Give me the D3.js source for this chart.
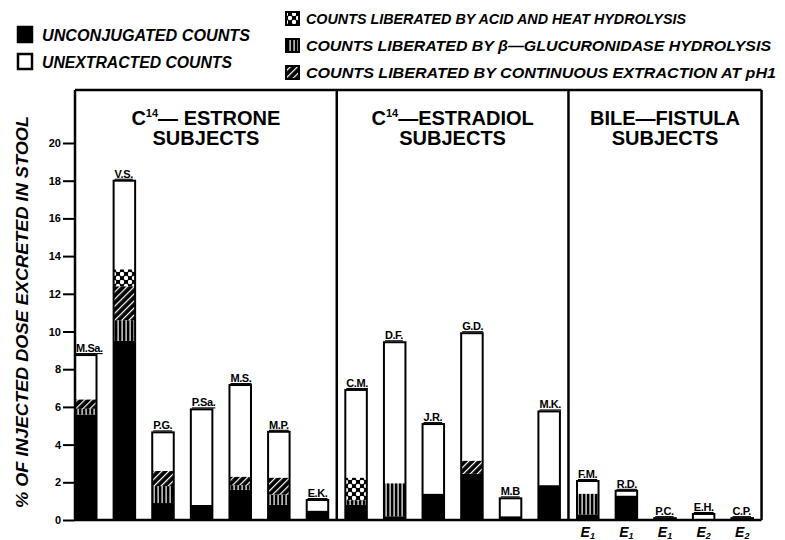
<!DOCTYPE html>
<html>
<head>
<meta charset="utf-8">
<script src="https://cdn.jsdelivr.net/npm/d3@7"></script>
<style>
  body { margin: 0; background: #fff; }
  svg { display: block; font-family: "Liberation Sans", Arial, sans-serif; }
</style>
</head>
<body>
<div id="chart"></div>
<script>
// Subjects, left to right across the three panels
const subjects = ["M.Sa.", "V.S.", "P.G.", "P.Sa.", "M.S.", "M.P.", "E.K.",
  "C.M.", "D.F.", "J.R.", "G.D.", "M.B", "M.K.",
  "F.M.", "R.D.", "P.C.", "E.H.", "C.P."];
// Panel heading: prefix, superscript, rest of first line, second line
const panelTitles = [
  ["C", "14", "— ESTRONE", "SUBJECTS"],
  ["C", "14", "—ESTRADIOL", "SUBJECTS"],
  ["BILE—FISTULA", "", "", "SUBJECTS"]
];
const panelStarts = ["M.Sa.", "C.M.", "F.M."];

// % of injected dose, stacked bottom to top
const unconjugated  = [5.6, 9.5, 0.9, 0.8, 1.6, 0.8, 0.5, 0.8, 0.2, 1.4, 2.45, 0.2, 1.85, 0.3, 1.3, 0.1, 0.05, 0.1];
const glucuronidase = [0.3, 1.1, 0.9, 0, 0.25, 0.55, 0, 0.25, 1.75, 0, 0, 0, 0, 1.1, 0, 0, 0, 0];
const continuous    = [0.5, 1.8, 0.8, 0, 0.45, 0.9, 0, 0, 0, 0, 0.7, 0, 0, 0, 0, 0, 0, 0];
const acidHeat      = [0, 0.9, 0, 0, 0, 0, 0, 1.2, 0, 0, 0, 0, 0, 0, 0, 0, 0, 0];
const unextracted   = [2.35, 4.7, 2.05, 5.07, 4.86, 2.43, 0.56, 4.65, 7.48, 3.69, 6.76, 0.95, 3.91, 0.67, 0.25, 0, 0.27, 0];

// Estrogen given, bile-fistula subjects only
const estrogen = ["", "", "", "", "", "", "", "", "", "", "", "", "", "1", "1", "1", "2", "2"];

const yTicks = [0, 2, 4, 6, 8, 10, 12, 14, 16, 18, 20];

const seriesKeys = ["unconjugated", "glucuronidase", "continuous", "acidHeat", "unextracted"];
const legendLeft = [
  ["unconjugated", "UNCONJUGATED COUNTS"],
  ["unextracted", "UNEXTRACTED COUNTS"]
];
const legendRight = [
  ["acidHeat", "COUNTS LIBERATED BY ACID AND HEAT HYDROLYSIS"],
  ["glucuronidase", "COUNTS LIBERATED BY β—GLUCURONIDASE  HYDROLYSIS"],
  ["continuous", "COUNTS LIBERATED BY CONTINUOUS EXTRACTION AT pH1"]
];

const width = 785, height = 540;
const frameTop = 90;

const svg = d3.select("#chart").append("svg")
  .attr("width", width)
  .attr("height", height);

svg.append("rect").attr("width", width).attr("height", height).attr("fill", "#fff");

// Patterns for the liberated-count segments
const defs = svg.append("defs");

const vl = defs.append("pattern").attr("id", "vlines")
  .attr("patternUnits", "userSpaceOnUse").attr("width", 4).attr("height", 4);
vl.append("rect").attr("width", 4).attr("height", 4).attr("fill", "#000");
vl.append("rect").attr("x", 1.5).attr("width", 1.2).attr("height", 4).attr("fill", "#fff");

const hatch = defs.append("pattern").attr("id", "hatch")
  .attr("patternUnits", "userSpaceOnUse").attr("width", 5).attr("height", 5)
  .attr("patternTransform", "rotate(45)");
hatch.append("rect").attr("width", 5).attr("height", 5).attr("fill", "#000");
hatch.append("rect").attr("x", 2).attr("width", 1.2).attr("height", 5).attr("fill", "#fff");

const dots = defs.append("pattern").attr("id", "dots")
  .attr("patternUnits", "userSpaceOnUse").attr("width", 8).attr("height", 8);
dots.append("rect").attr("width", 8).attr("height", 8).attr("fill", "#000");
dots.append("circle").attr("cx", 2).attr("cy", 2).attr("r", 2.2).attr("fill", "#fff");
dots.append("circle").attr("cx", 6).attr("cy", 6).attr("r", 2.2).attr("fill", "#fff");

const fills = {
  unconjugated: "#000",
  glucuronidase: "url(#vlines)",
  continuous: "url(#hatch)",
  acidHeat: "url(#dots)",
  unextracted: "#fff"
};

// Scales
const x = d3.scaleBand()
  .domain(subjects)
  .range([75, 753])
  .paddingInner(0.443)
  .paddingOuter(0);

const y = d3.scaleLinear()
  .domain([0, 20])
  .range([520, 143]);

const gap = x.step() - x.bandwidth();

// Stack the data
const rows = subjects.map((s, i) => ({
  subject: s,
  unconjugated: unconjugated[i],
  glucuronidase: glucuronidase[i],
  continuous: continuous[i],
  acidHeat: acidHeat[i],
  unextracted: unextracted[i],
  estrogen: estrogen[i]
}));
rows.forEach((r) => { r.total = d3.sum(seriesKeys, (k) => r[k]); });

const stacked = d3.stack().keys(seriesKeys)(rows);

svg.append("g")
  .selectAll("g")
  .data(stacked)
  .enter()
  .append("g")
  .attr("fill", (d) => fills[d.key])
  .selectAll("rect")
  .data((d) => d)
  .enter()
  .append("rect")
  .attr("x", (d) => x(d.data.subject))
  .attr("y", (d) => y(d[1]))
  .attr("width", x.bandwidth())
  .attr("height", (d) => y(d[0]) - y(d[1]));

// Bar outlines
svg.append("g")
  .selectAll("rect")
  .data(rows)
  .enter()
  .append("rect")
  .attr("x", (d) => x(d.subject))
  .attr("y", (d) => y(d.total))
  .attr("width", x.bandwidth())
  .attr("height", (d) => y(0) - y(d.total))
  .attr("fill", "none")
  .attr("stroke", "#000")
  .attr("stroke-width", 2);

// Subject initials over each bar
svg.append("g")
  .selectAll("text")
  .data(rows)
  .enter()
  .append("text")
  .attr("x", (d) => x(d.subject) + 1)
  .attr("y", (d) => y(d.total) - 3)
  .style("font-size", "11px")
  .style("font-weight", "bold")
  .style("letter-spacing", "-0.4px")
  .style("text-decoration", "underline")
  .text((d) => d.subject);

// E1 / E2 under the bile-fistula bars
const eLab = svg.append("g")
  .selectAll("text")
  .data(rows.filter((d) => d.estrogen))
  .enter()
  .append("text")
  .attr("x", (d) => x(d.subject) + x.bandwidth() / 2)
  .attr("y", 537)
  .attr("text-anchor", "middle")
  .style("font-size", "14px")
  .style("font-weight", "bold")
  .style("font-style", "italic");
eLab.append("tspan").text("E");
eLab.append("tspan").attr("dy", 2).style("font-size", "9px").text((d) => d.estrogen);

// Frame: top, dividers, right side, baseline
const xLeft = x(subjects[0]);
const xRight = x(subjects[subjects.length - 1]) + x.bandwidth() + gap / 2;
const dividers = panelStarts.slice(1).map((s) => x(s) - gap / 2);

const frame = svg.append("g").attr("stroke", "#000").attr("stroke-width", 2.5);
frame.append("line").attr("x1", xLeft).attr("x2", xRight).attr("y1", frameTop).attr("y2", frameTop);
frame.append("line").attr("x1", xLeft).attr("x2", xLeft).attr("y1", frameTop).attr("y2", y(0));
frame.append("line").attr("x1", xRight).attr("x2", xRight).attr("y1", frameTop).attr("y2", y(0));
frame.append("line").attr("x1", xLeft).attr("x2", xRight).attr("y1", y(0)).attr("y2", y(0));
frame.selectAll(".div")
  .data(dividers)
  .enter()
  .append("line")
  .attr("x1", (d) => d).attr("x2", (d) => d)
  .attr("y1", frameTop).attr("y2", y(0));

// Y axis
const yAxis = svg.append("g")
  .attr("transform", `translate(${xLeft},0)`)
  .call(d3.axisLeft(y).tickValues(yTicks).tickSize(12).tickPadding(2));
yAxis.select(".domain").remove();
yAxis.selectAll(".tick line").attr("stroke-width", 2);
yAxis.selectAll(".tick text")
  .style("font-size", "11px")
  .style("font-weight", "bold")
  .style("font-family", "'Liberation Sans', Arial, sans-serif");

svg.append("text")
  .attr("transform", "translate(28,312) rotate(-90)")
  .attr("text-anchor", "middle")
  .attr("textLength", 392)
  .attr("lengthAdjust", "spacingAndGlyphs")
  .style("font-size", "17px")
  .style("font-weight", "bold")
  .style("font-style", "italic")
  .text("% OF INJECTED DOSE EXCRETED IN STOOL");

// Panel headings
const bounds = [xLeft, ...dividers, xRight];
panelTitles.forEach((t, i) => {
  const cx = (bounds[i] + bounds[i + 1]) / 2;
  const line1 = svg.append("text")
    .attr("x", cx).attr("y", 125)
    .attr("text-anchor", "middle")
    .style("font-size", "20px")
    .style("font-weight", "bold");
  line1.append("tspan").text(t[0]);
  if (t[1]) {
    line1.append("tspan").attr("dy", -8).style("font-size", "11px").text(t[1]);
    line1.append("tspan").attr("dy", 8).text(t[2]);
  }
  svg.append("text")
    .attr("x", cx).attr("y", 145)
    .attr("text-anchor", "middle")
    .style("font-size", "20px")
    .style("font-weight", "bold")
    .text(t[3]);
});

// Legend
const legendText = (sel) => sel
  .style("font-weight", "bold")
  .style("font-style", "italic");

legendLeft.forEach(([k, label], i) => {
  svg.append("rect")
    .attr("x", 18).attr("y", 27 + i * 27)
    .attr("width", 14).attr("height", 15)
    .attr("fill", fills[k]).attr("stroke", "#000").attr("stroke-width", 2.5);
  svg.append("text")
    .attr("x", 42).attr("y", 41 + i * 27)
    .attr("textLength", i === 0 ? 208 : 190)
    .attr("lengthAdjust", "spacingAndGlyphs")
    .style("font-size", "16px")
    .call(legendText)
    .text(label);
});

legendRight.forEach(([k, label], i) => {
  svg.append("rect")
    .attr("x", 286).attr("y", 12 + i * 27)
    .attr("width", 13).attr("height", 13)
    .attr("fill", fills[k]).attr("stroke", "#000").attr("stroke-width", 2);
  svg.append("text")
    .attr("x", 306).attr("y", 24 + i * 27)
    .attr("textLength", [380, 465, 470][i])
    .attr("lengthAdjust", "spacingAndGlyphs")
    .style("font-size", "14px")
    .call(legendText)
    .text(label);
});
</script>
</body>
</html>
